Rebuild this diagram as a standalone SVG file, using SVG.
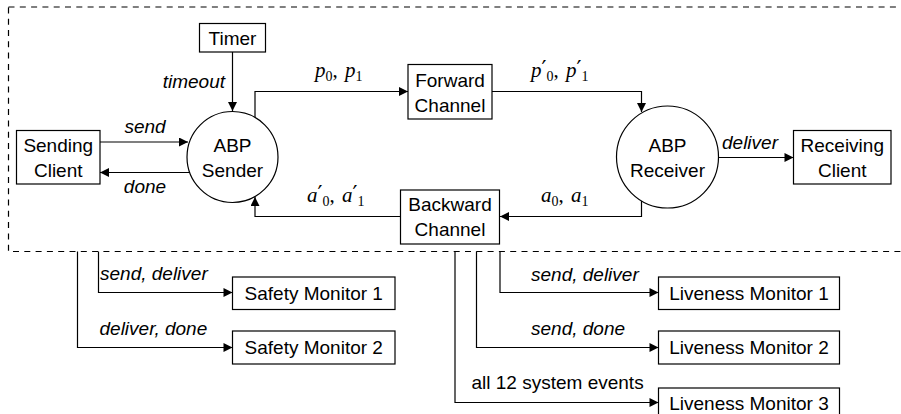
<svg xmlns="http://www.w3.org/2000/svg" width="901" height="414" viewBox="0 0 901 414">
<defs>
<marker id="arr" viewBox="0 0 10 10" refX="10" refY="5" markerWidth="10" markerHeight="9" markerUnits="userSpaceOnUse" orient="auto">
<path d="M0,0 L10,5 L0,10 z" fill="#000"/>
</marker>
</defs>
<style>
.box{fill:#fff;stroke:#000;stroke-width:1.2}
.t{font-family:"Liberation Sans",Arial,sans-serif;font-size:19px;fill:#000;text-anchor:middle}
.l{font-family:"Liberation Sans",Arial,sans-serif;font-size:19px;fill:#000;font-style:italic}
.u{font-family:"Liberation Sans",Arial,sans-serif;font-size:19px;fill:#000}
.m{font-family:"Liberation Serif","Times New Roman",serif;font-size:21px;fill:#000;font-style:italic}
.s{font-style:normal;font-size:14px}
.p{font-family:"DejaVu Sans",sans-serif;font-style:normal;font-size:22px}
.k{font-style:normal}
.c{fill:none;stroke:#000;stroke-width:1.2}
.a{marker-end:url(#arr)}
</style>
<rect x="8.5" y="7" width="900" height="244.5" fill="none" stroke="#000" stroke-width="1.2" stroke-dasharray="6 5.3"/>
<g id="connectors">
<path class="c a" d="M232.5 52 V111"/>
<path class="c a" d="M100 142 H188"/>
<path class="c a" d="M190 172.5 H100"/>
<path class="c a" d="M255 118 V91.5 H408"/>
<path class="c a" d="M492 91.5 H641.5 V112"/>
<path class="c a" d="M641.5 201 V216.5 H500"/>
<path class="c a" d="M400.5 216.5 H255 V197"/>
<path class="c a" d="M718.5 157.5 H793.5"/>
<path class="c a" d="M98.5 251.5 V292.5 H232.5"/>
<path class="c a" d="M77.5 251.5 V347.5 H232.5"/>
<path class="c a" d="M500 251.5 V292.5 H658.5"/>
<path class="c a" d="M476.5 251.5 V347.5 H658.5"/>
<path class="c a" d="M455 251.5 V402.5 H658.5"/>
<text class="l" x="225" y="88" text-anchor="end">timeout</text>
<text class="l" x="145" y="133" text-anchor="middle">send</text>
<text class="l" x="145" y="193" text-anchor="middle">done</text>
<text class="l" x="750" y="149" text-anchor="middle">deliver</text>
<text class="m" x="315" y="77">p<tspan class="s" dy="4">0</tspan><tspan class="k" dy="-4">, </tspan><tspan dx="2">p</tspan><tspan class="s" dy="4">1</tspan></text>
<text class="m" x="531" y="77">p<tspan class="p" dy="-1">′</tspan><tspan class="s" dy="5">0</tspan><tspan class="k" dy="-4">, </tspan><tspan dx="2">p</tspan><tspan class="p" dy="-1">′</tspan><tspan class="s" dy="5">1</tspan></text>
<text class="m" x="541" y="202">a<tspan class="s" dy="4">0</tspan><tspan class="k" dy="-4">, </tspan><tspan dx="2">a</tspan><tspan class="s" dy="4">1</tspan></text>
<text class="m" x="307" y="202">a<tspan class="p" dy="-1">′</tspan><tspan class="s" dy="5">0</tspan><tspan class="k" dy="-4">, </tspan><tspan dx="2">a</tspan><tspan class="p" dy="-1">′</tspan><tspan class="s" dy="5">1</tspan></text>
<text class="l" x="100" y="280">send, deliver</text>
<text class="l" x="99.5" y="335">deliver, done</text>
<text class="l" x="531" y="280.5">send, deliver</text>
<text class="l" x="531" y="335">send, done</text>
<text class="u" x="471.5" y="389">all 12 system events</text>
</g>
<g id="timer"><rect class="box" x="199.5" y="23.5" width="66" height="28.5"/><text class="t" x="232.5" y="45">Timer</text></g>
<g id="abp-sender"><circle class="box" cx="232.5" cy="157" r="45.5"/><text class="t" x="232.5" y="151.5">ABP</text><text class="t" x="232.5" y="176.5">Sender</text></g>
<g id="sending-client"><rect class="box" x="16.5" y="130.5" width="83.5" height="53.5"/><text class="t" x="58.25" y="151.5">Sending</text><text class="t" x="58.25" y="176.5">Client</text></g>
<g id="forward-channel"><rect class="box" x="408" y="64.5" width="84" height="54.5"/><text class="t" x="450" y="86.5">Forward</text><text class="t" x="450" y="111.5">Channel</text></g>
<g id="backward-channel"><rect class="box" x="400.5" y="190" width="99" height="54"/><text class="t" x="450" y="211">Backward</text><text class="t" x="450" y="236">Channel</text></g>
<g id="abp-receiver"><circle class="box" cx="667.5" cy="157" r="51"/><text class="t" x="667.5" y="151.5">ABP</text><text class="t" x="667.5" y="176.5">Receiver</text></g>
<g id="receiving-client"><rect class="box" x="793.5" y="130.5" width="97.5" height="53.5"/><text class="t" x="842.25" y="151.5">Receiving</text><text class="t" x="842.25" y="176.5">Client</text></g>
<g id="safety-monitor-1"><rect class="box" x="232.5" y="277" width="162.5" height="32.5"/><text class="t" x="313.75" y="299.5">Safety Monitor 1</text></g>
<g id="safety-monitor-2"><rect class="box" x="232.5" y="331" width="162.5" height="33"/><text class="t" x="313.75" y="353.5">Safety Monitor 2</text></g>
<g id="liveness-monitor-1"><rect class="box" x="658.5" y="277" width="181" height="32.5"/><text class="t" x="749" y="299.5">Liveness Monitor 1</text></g>
<g id="liveness-monitor-2"><rect class="box" x="658.5" y="331" width="181" height="33"/><text class="t" x="749" y="353.5">Liveness Monitor 2</text></g>
<g id="liveness-monitor-3"><rect class="box" x="658.5" y="388" width="181" height="33"/><text class="t" x="749" y="410">Liveness Monitor 3</text></g>
</svg>
